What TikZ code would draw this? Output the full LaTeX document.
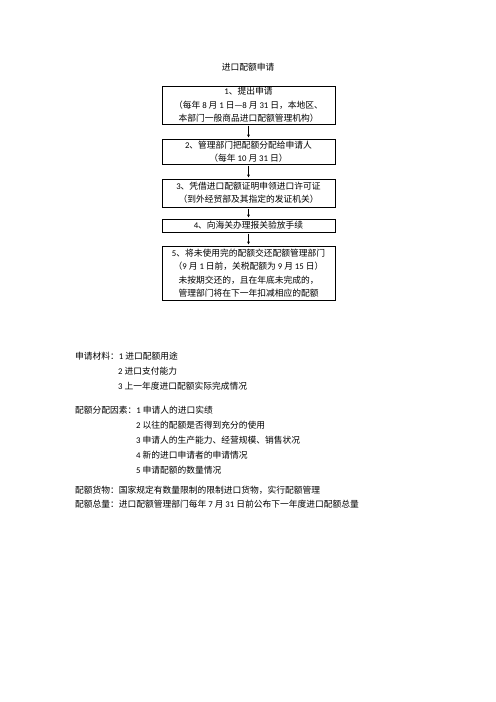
\documentclass[tikz,border=0pt]{standalone}
\usepackage{fontspec}
\setmainfont{Noto Sans CJK SC}
\newfontfamily\dgt{Carlito}
\usetikzlibrary{arrows.meta}
\newcommand{\D}[1]{{\dgt #1}}
\tikzset{
  every node/.style={font=\fontsize{10.5pt}{16pt}\selectfont, inner sep=0pt},
  flowbox/.style={draw, line width=0.8pt, align=center, minimum width=207.6pt},
  lbl/.style={anchor=west},
  flowarrow/.style={line width=0.6pt, -{Stealth[length=3.5pt,width=3.5pt]}}
}
\begin{document}
\begin{tikzpicture}[x=1.2pt,y=-1.2pt]
\useasboundingbox (0,0) rectangle (496,702);
\node (title) at (248,67) {进口配额申请};
\node[flowbox, minimum height=38*1.2pt] (b1) at (248.5,105)
  {\D{1}、提出申请\\（每年 \D{8} 月 \D{1} 日—\D{8} 月 \D{31} 日，本地区、\\本部门一般商品进口配额管理机构）};
\node[flowbox, minimum height=25*1.2pt] (b2) at (248.5,151.5)
  {\D{2}、管理部门把配额分配给申请人\\（每年 \D{10} 月 \D{31} 日）};
\node[flowbox, minimum height=28*1.2pt] (b3) at (248.5,193)
  {\D{3}、凭借进口配额证明申领进口许可证\\（到外经贸部及其指定的发证机关）};
\node[flowbox, minimum height=13*1.2pt] (b4) at (248.5,225.5)
  {\D{4}、向海关办理报关验放手续};
\node[flowbox, minimum height=54*1.2pt] (b5) at (248.5,273)
  {\D{5}、将未使用完的配额交还配额管理部门\\（\D{9} 月 \D{1} 日前，关税配额为 \D{9} 月 \D{15} 日）\\未按期交还的，且在年底未完成的，\\管理部门将在下一年扣减相应的配额};
\draw[flowarrow] ([yshift=-1.5pt]b1.south) -- ([yshift=1.5pt]b2.north);
\draw[flowarrow] ([yshift=-1.5pt]b2.south) -- ([yshift=1.5pt]b3.north);
\draw[flowarrow] ([yshift=-1.5pt]b3.south) -- ([yshift=1.5pt]b4.north);
\draw[flowarrow] ([yshift=-1.5pt]b4.south) -- ([yshift=1.5pt]b5.north);
\node[lbl] (m1) at (75,356) {申请材料：\D{1} 进口配额用途};
\node[lbl] (m2) at (118,371) {\D{2} 进口支付能力};
\node[lbl] (m3) at (118,386) {\D{3} 上一年度进口配额实际完成情况};
\node[lbl] (f1) at (75,410) {配额分配因素：\D{1} 申请人的进口实绩};
\node[lbl] (f2) at (136,425) {\D{2} 以往的配额是否得到充分的使用};
\node[lbl] (f3) at (136,440) {\D{3} 申请人的生产能力、经营规模、销售状况};
\node[lbl] (f4) at (136,455) {\D{4} 新的进口申请者的申请情况};
\node[lbl] (f5) at (136,470) {\D{5} 申请配额的数量情况};
\node[lbl] (g1) at (75,490) {配额货物：国家规定有数量限制的限制进口货物，实行配额管理};
\node[lbl] (g2) at (75,504) {配额总量：进口配额管理部门每年 \D{7} 月 \D{31} 日前公布下一年度进口配额总量};
\end{tikzpicture}
\end{document}
